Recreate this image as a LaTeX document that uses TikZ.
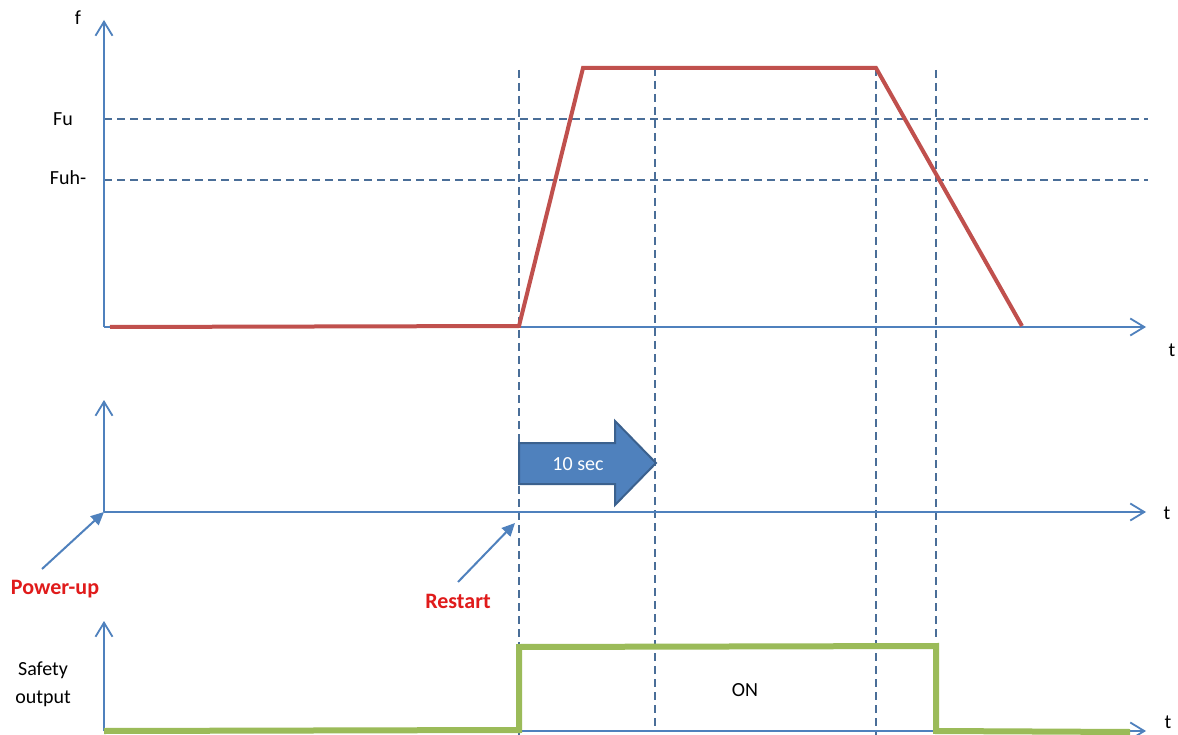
\documentclass[tikz,border=0pt]{standalone}
\usepackage{fontspec}
\setmainfont{Carlito}
\usetikzlibrary{arrows.meta}
\definecolor{axisblue}{HTML}{4F81BD}
\definecolor{gridblue}{HTML}{4A6E98}
\definecolor{curvered}{HTML}{C0504D}
\definecolor{outgreen}{HTML}{9BBB59}
\definecolor{labelred}{HTML}{E01B1B}
\tikzset{
	axis/.style={draw=axisblue, line width=1.8pt, -{Straight Barb[length=14pt,width=17pt,line width=1.8pt]}},
	guide/.style={draw=gridblue, line width=1.4pt, dash pattern=on 8pt off 5pt},
	freq/.style={draw=curvered, line width=4pt, line join=miter},
	safe/.style={draw=outgreen, line width=6pt, line join=miter},
	pointer/.style={draw=axisblue, line width=2pt, -{Triangle[length=13pt,width=12pt]}},
	lbl/.style={font=\fontsize{20}{24}\selectfont, inner sep=0pt},
	event/.style={font=\fontsize{22}{26}\selectfont\bfseries, text=labelred, inner sep=0pt}
}
\begin{document}
\begin{tikzpicture}[x=1pt, y=-1pt]
			%%%%% START %%%%%
			\useasboundingbox[fill=white] (0, 0) rectangle (1178, 735);
			
			% guide lines
			\draw[guide] (104, 119) -- (1148, 119);
			\draw[guide] (104, 180) -- (1148, 180);
			\draw[guide] (519, 70) -- (519, 735);
			\draw[guide] (655, 68) -- (655, 731);
			\draw[guide] (876, 68) -- (876, 735);
			\draw[guide] (936, 70) -- (936, 640);
			
			% frequency axes
			\coordinate (forig) at (104, 327);
			\draw[axis] (forig) -- (104, 20);
			\draw[axis] (forig) -- (1146, 327);
			\node[lbl] (flabel) at (78, 18) {f};
			\node[lbl] (ftime) at (1172, 350) {t};
			\node[lbl] (fu) at (63, 119) {Fu};
			\node[lbl] (fuh) at (68, 178) {Fuh-};
			\draw[freq] (110, 327) -- (519, 326) -- (583, 68) -- (876, 68) -- (1022, 326);
			
			% restart axes
			\coordinate (rorig) at (104, 512);
			\draw[axis] (rorig) -- (104, 400);
			\draw[axis] (rorig) -- (1146, 512);
			\node[lbl] (rtime) at (1167, 513) {t};
			\draw[draw=axisblue!75!black, fill=axisblue, line width=2pt, line join=miter]
				(519, 443) -- (615, 443) -- (615, 421) -- (656, 463) -- (615, 505) -- (615, 484) -- (519, 484) -- cycle;
			\node[lbl, text=white] (delay) at (578, 464) {10 sec};
			
			\node[event] (powerup) at (55, 589) {Power-up};
			\coordinate (powertail) at (42, 569);
			\draw[pointer] (powertail) -- (rorig);
			\node[event] (restart) at (458, 601) {Restart};
			\coordinate (restarttail) at (458, 582);
			\coordinate (restarttip) at (515, 523);
			\draw[pointer] (restarttail) -- (restarttip);
			
			% safety output axes
			\coordinate (sorig) at (104, 731);
			\draw[axis] (sorig) -- (104, 621);
			\draw[axis] (sorig) -- (1146, 731);
			\node[lbl] (stime) at (1168, 722) {t};
			\node[lbl, align=center] (safety) at (43, 684) {Safety\\[4pt]output};
			\draw[safe] (104, 731) -- (519, 730) -- (519, 647) -- (936, 646) -- (936, 731) -- (1130, 732);
			\node[lbl] (on) at (745, 690) {ON};
			%%%%% END %%%%%
\end{tikzpicture}
\end{document}
